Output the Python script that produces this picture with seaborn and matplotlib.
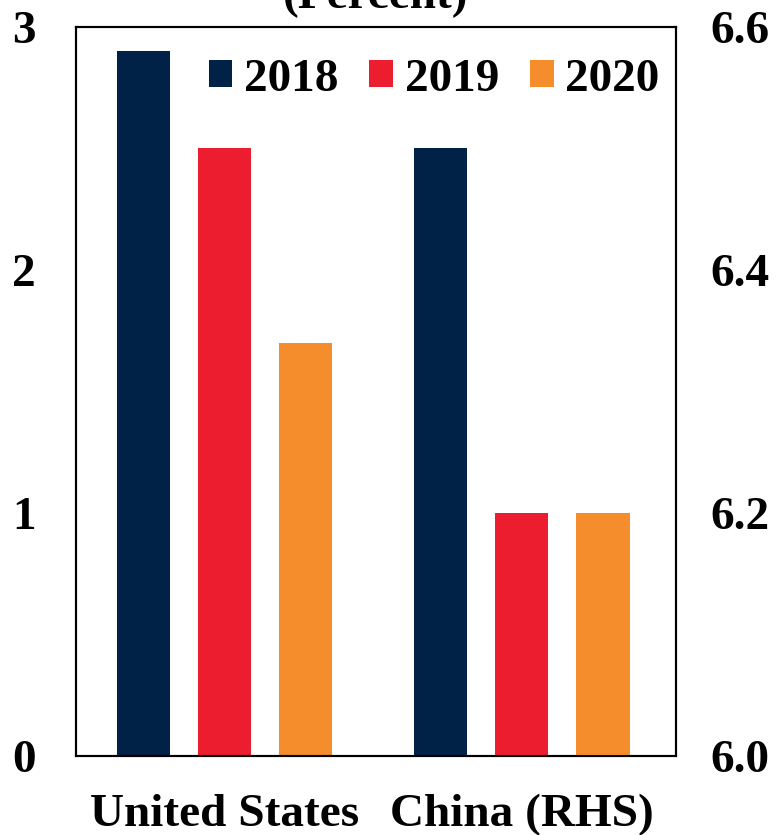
import matplotlib
matplotlib.use("Agg")
import matplotlib.pyplot as plt
import seaborn as sns
import pandas as pd

# Real GDP growth, percent
countries = ["United States", "China (RHS)"]
years = ["2018", "2019", "2020"]
us_growth = [2.9, 2.5, 1.7]
china_growth = [6.5, 6.2, 6.2]
palette = ["#012247", "#EC1D2F", "#F68D2C"]
left_ticks = [0, 1, 2, 3]
right_ticks = [6.0, 6.2, 6.4, 6.6]

sns.set_theme(style="white")
plt.rcParams["font.family"] = ["Liberation Serif", "DejaVu Serif"]
plt.rcParams["font.weight"] = "bold"
plt.rcParams["text.color"] = "black"

us = pd.DataFrame({"country": countries[0], "year": years, "growth": us_growth})
cn = pd.DataFrame({"country": countries[1], "year": years, "growth": china_growth})

fig = plt.figure(figsize=(7.77, 8.35), dpi=100)
ax = fig.add_axes([0.0978, 0.0946, 0.7722, 0.8731])
ax2 = ax.twinx()

common = dict(x="country", y="growth", hue="year", order=countries,
              hue_order=years, palette=palette, saturation=1,
              width=0.82, gap=0.34, linewidth=0)
sns.barplot(data=us, ax=ax, legend=True, **common)
sns.barplot(data=cn, ax=ax2, legend=False, **common)

fs = 34
ax.set_xlim(-0.5, 1.52)
ax.set_ylim(0, 3)
ax2.set_ylim(6.0, 6.6)
ax.set_yticks(left_ticks)
ax.set_yticklabels([f"{t:d}" for t in left_ticks], fontsize=fs, fontweight="bold")
ax2.set_yticks(right_ticks)
ax2.set_yticklabels([f"{t:.1f}" for t in right_ticks], fontsize=fs, fontweight="bold")
ax.set_xticks(range(len(countries)))
ax.set_xticklabels(countries, fontsize=fs, fontweight="bold")
ax.tick_params(axis="y", length=0, pad=29, colors="black")
ax2.tick_params(axis="y", length=0, pad=25, colors="black")
ax.tick_params(axis="x", length=0, pad=27, colors="black")
for a in (ax, ax2):
    a.set_xlabel("")
    a.set_ylabel("")
    for s in a.spines.values():
        s.set_color("black")
        s.set_linewidth(1.5)

sns.move_legend(ax, "upper center", bbox_to_anchor=(0.597, 1.015), ncol=3,
                frameon=False, title=None, handlelength=0.5, handleheight=0.5,
                handletextpad=0.25, columnspacing=0.65,
                prop={"size": fs, "weight": "bold"})

fig.text(0.4835, 0.99, "(Percent)", ha="center", va="baseline",
         fontsize=fs, fontweight="bold")

fig.savefig("out.png", dpi=100)
